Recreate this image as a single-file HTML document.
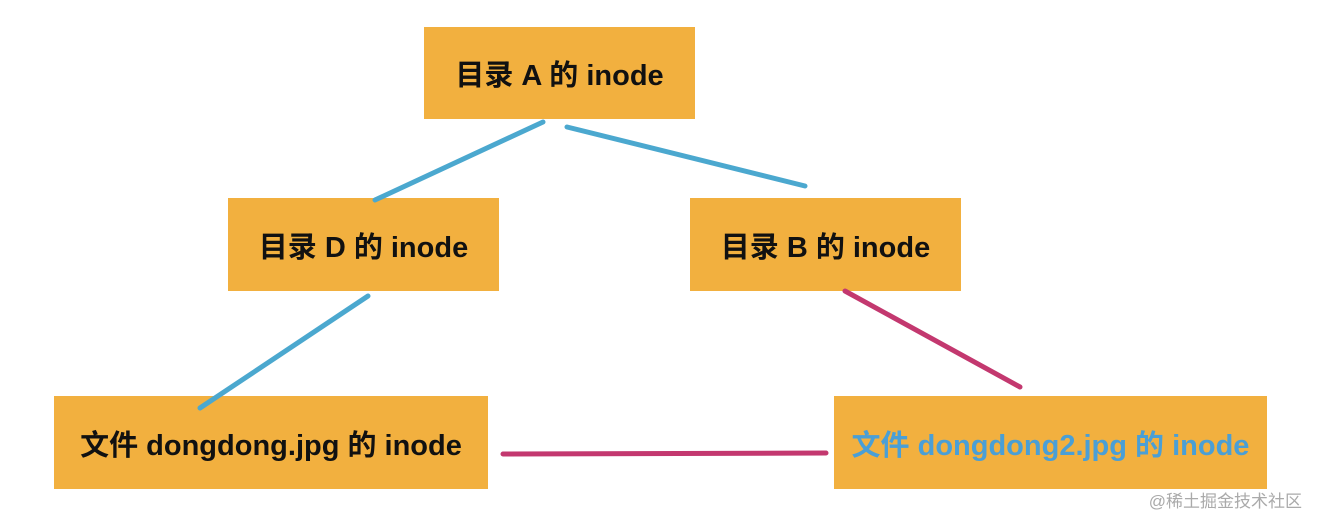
<!DOCTYPE html>
<html><head><meta charset="utf-8"><style>
body{margin:0;width:1320px;height:528px;background:#fff;position:relative;overflow:hidden;font-family:"Liberation Sans","Noto Sans CJK SC",sans-serif;}
.b{position:absolute;background:#f2b03f;display:flex;align-items:center;justify-content:center;font-size:29px;font-weight:bold;color:#111;}
svg{position:absolute;left:0;top:0}
.wm{position:absolute;right:18px;top:487px;font-size:17px;color:#aaa;}
</style></head><body>
<div class="b" style="left:424px;top:27px;width:271px;height:92px">目录 A 的 inode</div>
<div class="b" style="left:228px;top:198px;width:271px;height:93px">目录 D 的 inode</div>
<div class="b" style="left:690px;top:198px;width:271px;height:93px">目录 B 的 inode</div>
<div class="b" style="left:54px;top:396px;width:434px;height:93px">文件 dongdong.jpg 的 inode</div>
<div class="b" style="left:834px;top:396px;width:433px;height:93px;color:#4a9fd6">文件 dongdong2.jpg 的 inode</div>
<svg width="1320" height="528">
<g stroke-linecap="round" fill="none">
<path d="M543 122 L375 200" stroke="#4ba8cf" stroke-width="5"/>
<path d="M567 127 L805 186" stroke="#4ba8cf" stroke-width="5"/>
<path d="M368 296 L200 408" stroke="#4ba8cf" stroke-width="5"/>
<path d="M845 291 L1020 387" stroke="#c3386f" stroke-width="5"/>
<path d="M503 454 L826 453" stroke="#c3386f" stroke-width="5"/>
</g></svg>
<div class="wm">@稀土掘金技术社区</div>
</body></html>
